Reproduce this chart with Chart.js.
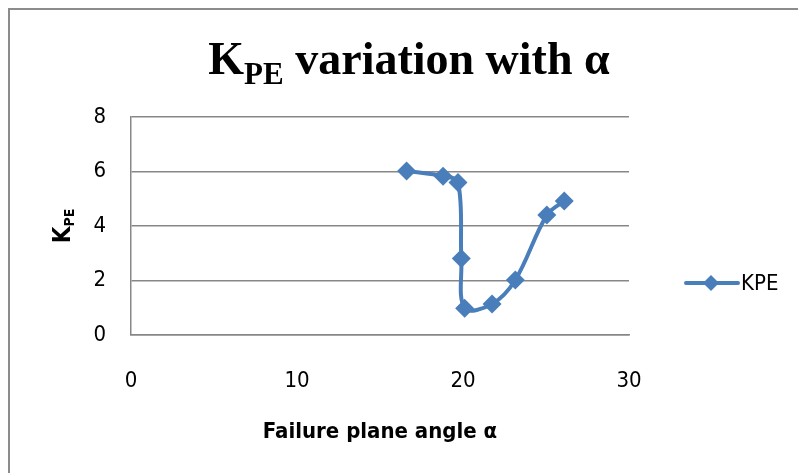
<!DOCTYPE html>
<html>
<head>
<meta charset="utf-8">
<script src="https://cdn.jsdelivr.net/npm/chart.js@4.4.1/dist/chart.umd.min.js"></script>
<style>
  body { margin: 0; background: #fff; }
  #wrap { position: relative; width: 798px; height: 473px; }
  #frame { position: absolute; left: 8px; top: 8px; right: 0; bottom: 0;
           border-left: 2px solid #8c8c8c; border-top: 2px solid #8c8c8c; pointer-events: none; }
</style>
</head>
<body>
<div id="wrap">
  <canvas id="chart" width="798" height="473"></canvas>
  <div id="frame"></div>
</div>
<script>
// valores
const alphaValues = [16.6, 18.8, 19.7, 19.9, 20.1, 21.75, 23.15, 25.05, 26.1];
const kpeValues = [6.02, 5.83, 5.6, 2.81, 0.98, 1.14, 2.02, 4.4, 4.92];
const xTicks = [0, 10, 20, 30];
const yTicks = [0, 2, 4, 6, 8];
const seriesName = 'KPE';

const blue = '#4a7ebb';
const gridGray = '#878787';
const narrow = '"Liberation Sans Narrow", "DejaVu Sans Condensed", Arial, sans-serif';

// titulo e legenda com subscrito
const textPlugin = {
    id: 'textPlugin',
    afterDraw(chart) {
        const ctx = chart.ctx;
        const area = chart.chartArea;
        ctx.save();
        ctx.fillStyle = '#000';
        ctx.textBaseline = 'alphabetic';

        // titulo: K_PE variation with α
        const big = 'bold 46px "Liberation Serif", "Times New Roman", serif';
        const small = 'bold 31px "Liberation Serif", "Times New Roman", serif';
        ctx.font = big;
        const wK = ctx.measureText('K').width;
        const wRest = ctx.measureText(' variation with α').width;
        ctx.font = small;
        const wSub = ctx.measureText('PE').width;
        let x = 409 - (wK + wSub + wRest) / 2;
        ctx.textAlign = 'left';
        ctx.font = big;
        ctx.fillText('K', x, 74);
        x += wK;
        ctx.font = small;
        ctx.fillText('PE', x, 84);
        x += wSub;
        ctx.font = big;
        ctx.fillText(' variation with α', x, 74);

        // titulo do eixo y: K_PE rodado
        ctx.save();
        ctx.translate(70, (area.top + area.bottom) / 2);
        ctx.rotate(-Math.PI / 2);
        const yBig = 'bold 24px ' + narrow;
        const ySmall = 'bold 14px ' + narrow;
        ctx.font = yBig;
        const k = ctx.measureText('K').width;
        ctx.font = ySmall;
        const pe = ctx.measureText('PE').width;
        let yx = -(k + pe) / 2;
        ctx.font = yBig;
        ctx.fillText('K', yx, 0);
        ctx.font = ySmall;
        ctx.fillText('PE', yx + k, 4);
        ctx.restore();

        // legenda
        const ly = 283;
        ctx.strokeStyle = blue;
        ctx.lineWidth = 4;
        ctx.lineCap = 'round';
        ctx.beginPath();
        ctx.moveTo(686, ly);
        ctx.lineTo(738, ly);
        ctx.stroke();
        ctx.fillStyle = blue;
        ctx.beginPath();
        ctx.moveTo(711, ly - 8);
        ctx.lineTo(719, ly);
        ctx.lineTo(711, ly + 8);
        ctx.lineTo(703, ly);
        ctx.closePath();
        ctx.fill();
        ctx.fillStyle = '#000';
        ctx.font = '22px ' + narrow;
        ctx.textBaseline = 'middle';
        ctx.fillText(seriesName, 741, ly + 1);
        ctx.restore();
    }
};

const ctx = document.getElementById('chart').getContext('2d');
const kpeChart = new Chart(ctx, {
    type: 'scatter',
    data: {
        datasets: [{
            label: seriesName,
            data: alphaValues.map((a, i) => ({ x: a, y: kpeValues[i] })),
            showLine: true,
            borderColor: blue,
            backgroundColor: blue,
            borderWidth: 4,
            tension: 0.35,
            pointStyle: 'rectRot',
            pointRadius: 9.5,
            pointHoverRadius: 9.5,
            pointBorderWidth: 0
        }]
    },
    options: {
        responsive: false,
        animation: false,
        layout: { padding: { top: 117, right: 169, left: 0, bottom: 0 } },
        plugins: {
            legend: { display: false },
            tooltip: { enabled: false }
        },
        scales: {
            x: {
                type: 'linear',
                min: 0,
                max: 30,
                afterBuildTicks: s => { s.ticks = xTicks.map(v => ({ value: v })); },
                afterFit: s => { s.height = 138; },
                grid: { display: false, drawTicks: false },
                border: { display: true, color: gridGray, width: 1.5 },
                ticks: { padding: 33, color: '#000', font: { family: narrow, size: 22 } },
                title: {
                    display: true,
                    text: 'Failure plane angle α',
                    color: '#000',
                    font: { family: narrow, size: 22, weight: 'bold' },
                    padding: { top: 0, bottom: 28 }
                }
            },
            y: {
                min: 0,
                max: 8,
                afterBuildTicks: s => { s.ticks = yTicks.map(v => ({ value: v })); },
                afterFit: s => { s.width = 131; },
                grid: { color: gridGray, lineWidth: 1.5, drawTicks: false },
                border: { display: true, color: gridGray, width: 1.5 },
                ticks: { padding: 25, color: '#000', font: { family: narrow, size: 22 } }
            }
        }
    },
    plugins: [textPlugin]
});
</script>
</body>
</html>
